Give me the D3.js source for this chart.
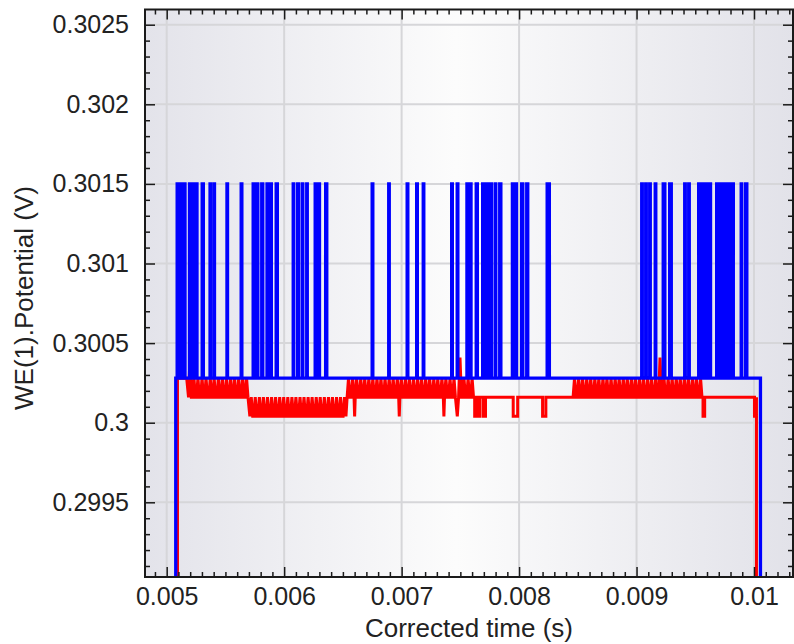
<!DOCTYPE html>
<html><head><meta charset="utf-8">
<script src="https://cdn.jsdelivr.net/npm/d3@7"></script>
<style>html,body{margin:0;padding:0;background:#fff;} svg{display:block;}</style>
</head><body><svg id="chart" width="794" height="644"></svg>
<script>
// ---------------- data ----------------
const xTickValues = [0.005, 0.006, 0.007, 0.008, 0.009, 0.01];
const xTickLabels = ["0.005", "0.006", "0.007", "0.008", "0.009", "0.01"];
const yTickValues = [0.2995, 0.3, 0.3005, 0.301, 0.3015, 0.302, 0.3025];
const yTickLabels = ["0.2995", "0.3", "0.3005", "0.301", "0.3015", "0.302", "0.3025"];
const xTitle = "Corrected time (s)";
const yTitle = "WE(1).Potential (V)";

const belowAxis = 0.2988;          // trace value off the bottom of the plot
// blue trace
const blueBase = 0.30028, blueTop = 0.3015;
const blueStart = 0.005077, blueEnd = 0.010055;
const blueSpikeStart = [0.005089,0.005120,0.005151,0.005194,0.005224,0.005254,0.005302,0.005369,0.005402,0.005513,0.005634,0.005736,0.005770,0.005809,0.005854,0.005885,0.005932,0.006077,0.006115,0.006153,0.006192,0.006264,0.006296,0.006353,0.006749,0.006890,0.007047,0.007128,0.007184,0.007426,0.007473,0.007556,0.007586,0.007635,0.007690,0.007724,0.007758,0.007796,0.007835,0.007943,0.007973,0.008022,0.008065,0.008239,0.009044,0.009078,0.009112,0.009159,0.009227,0.009282,0.009410,0.009444,0.009529,0.009563,0.009595,0.009625,0.009682,0.009716,0.009750,0.009784,0.009818,0.009891,0.009929];
const blueSpikeEnd   = [0.005095,0.005124,0.005156,0.005199,0.005228,0.005258,0.005312,0.005373,0.005407,0.005518,0.005640,0.005742,0.005776,0.005818,0.005858,0.005891,0.005942,0.006082,0.006121,0.006159,0.006197,0.006270,0.006301,0.006363,0.006755,0.006895,0.007053,0.007134,0.007189,0.007432,0.007479,0.007561,0.007591,0.007645,0.007696,0.007730,0.007764,0.007802,0.007845,0.007948,0.007978,0.008032,0.008074,0.008258,0.009049,0.009083,0.009117,0.009164,0.009241,0.009296,0.009415,0.009449,0.009535,0.009569,0.009600,0.009630,0.009688,0.009722,0.009756,0.009790,0.009824,0.009896,0.009939];

// red trace (quantised levels)
const redL0 = 0.30004, redL1 = 0.30016, redL2 = 0.30028, redL3 = 0.30041;
const redStart = 0.005092, redBandAStart = 0.005170, redEnd = 0.010021;
const redSampleStep = 0.000012;
const redBandA = [0.005198,0.005232,0.005266,0.005301,0.005335,0.005371,0.005404,0.005440,0.005474,0.005509,0.005544,0.005578,0.005613,0.005647,0.005680];
const redBandB = [0.005720,0.005754,0.005789,0.005823,0.005858,0.005893,0.005927,0.005962,0.005996,0.006031,0.006066,0.006100,0.006135,0.006169,0.006204,0.006238,0.006273,0.006307,0.006342,0.006377,0.006411,0.006446,0.006480,0.006514];
const redBandC = [0.006548,0.006583,0.006617,0.006652,0.006686,0.006721,0.006755,0.006790,0.006824,0.006859,0.006894,0.006928,0.006963,0.006997,0.007032,0.007066,0.007101,0.007136,0.007170,0.007205,0.007239,0.007274,0.007308,0.007343,0.007377,0.007412,0.007446,0.007497,0.007531,0.007566,0.007600];
const redBandD = [0.008472,0.008507,0.008541,0.008576,0.008610,0.008645,0.008679,0.008714,0.008748,0.008783,0.008818,0.008852,0.008887,0.008921,0.008956,0.008990,0.009025,0.009059,0.009094,0.009128,0.009163,0.009200,0.009234,0.009269,0.009303,0.009338,0.009372,0.009407,0.009441,0.009476,0.009510,0.009545];
const redSpikeTimes = [0.005198, 0.007497, 0.009200];
const redBandDipTimes = [0.006600, 0.006980, 0.007360, 0.007474];
const redDipStart = [0.007622,0.007652,0.007697,0.007950,0.008200,0.009566,0.010004];
const redDipEnd   = [0.007640,0.007668,0.007714,0.007988,0.008228,0.009580,0.010021];

// ---------------- chart ----------------
const FONT = "'Liberation Sans', Arial, sans-serif";
const m = {left: 145, top: 9.5, right: 793, bottom: 577};
const x = d3.scaleLinear().domain([0.0048153, 0.010332]).range([m.left, m.right]);
const y = d3.scaleLinear().domain([0.2990308, 0.3025955]).range([m.bottom, m.top]);

const svg = d3.select("#chart");
const defs = svg.append("defs");
const grad = defs.append("linearGradient").attr("id", "bg").attr("x1", "0").attr("x2", "1").attr("y1", "0").attr("y2", "0");
grad.append("stop").attr("offset", "0%").attr("stop-color", "#e3e3ea");
grad.append("stop").attr("offset", "48%").attr("stop-color", "#fcfcfc");
grad.append("stop").attr("offset", "100%").attr("stop-color", "#e2e2e9");
defs.append("clipPath").attr("id", "clip").append("rect")
  .attr("x", m.left).attr("y", m.top).attr("width", m.right - m.left).attr("height", m.bottom - m.top);

svg.append("rect").attr("x", m.left).attr("y", m.top).attr("width", m.right - m.left)
  .attr("height", m.bottom - m.top).attr("fill", "url(#bg)");

// grid
const grid = svg.append("g").attr("stroke", "#d6d6d9").attr("stroke-width", 2);
grid.selectAll(".gx").data(xTickValues).join("line")
  .attr("x1", d => x(d)).attr("x2", d => x(d)).attr("y1", m.top).attr("y2", m.bottom);
grid.selectAll(".gy").data(yTickValues).join("line")
  .attr("y1", d => y(d)).attr("y2", d => y(d)).attr("x1", m.left).attr("x2", m.right);

// build red points
const redPts = [[redStart, belowAxis], [redStart, redL2], [redBandAStart, redL2]];
function addBand(peaks, low, high) {
  peaks.forEach(p => {
    const top = redSpikeTimes.includes(p) ? redL3 : high;
    redPts.push([p - redSampleStep, low], [p, top], [p + redSampleStep, low]);
  });
}
addBand(redBandA, redL1, redL2);
addBand(redBandB, redL0, redL1);
addBand(redBandC, redL1, redL2);
addBand(redBandD, redL1, redL2);
redBandDipTimes.forEach(t => redPts.push([t, redL0]));
redDipStart.forEach((s, i) => {
  redPts.push([s, redL1], [s, redL0], [redDipEnd[i], redL0], [redDipEnd[i], redL1]);
});
redPts.push([redEnd, belowAxis]);
const redSorted = redPts.map((p, i) => [p[0], p[1], i]).sort((a, b) => a[0] - b[0] || a[2] - b[2]);

// build blue points
const bluePts = [[blueStart, belowAxis], [blueStart, blueBase]];
blueSpikeStart.forEach((s, i) => {
  const e = blueSpikeEnd[i];
  bluePts.push([s, blueBase], [s, blueTop], [e, blueTop], [e, blueBase]);
});
bluePts.push([blueEnd, blueBase], [blueEnd, belowAxis]);

const line = d3.line().x(d => x(d[0])).y(d => y(d[1]));
const plot = svg.append("g").attr("clip-path", "url(#clip)");
plot.append("path").attr("d", line(redSorted)).attr("fill", "none")
  .attr("stroke", "#ff0000").attr("stroke-width", 3).attr("stroke-linejoin", "miter").attr("stroke-miterlimit", 2);
plot.append("path").attr("d", line(bluePts)).attr("fill", "none")
  .attr("stroke", "#0000ff").attr("stroke-width", 3.3);

// axes
const xMinor = d3.range(49, 104).map(k => k / 10000).filter(v => !xTickValues.some(t => Math.abs(t - v) < 1e-9));
const yMinor = d3.range(2991, 3026).map(k => k / 10000).filter(v => !yTickValues.some(t => Math.abs(t - v) < 1e-9));

function styleAxis(g) {
  g.select(".domain").remove();
  g.selectAll(".tick line").attr("stroke", "#1a1a1a").attr("stroke-width", 1.5);
  g.selectAll("text").attr("font-family", FONT).attr("font-size", 25).attr("fill", "#222");
}
svg.append("g").attr("transform", `translate(0,${m.bottom})`)
  .call(d3.axisBottom(x).tickValues(xTickValues).tickFormat((d, i) => xTickLabels[i]).tickSize(-10).tickPadding(10)).call(styleAxis);
svg.append("g").attr("transform", `translate(0,${m.bottom})`)
  .call(d3.axisBottom(x).tickValues(xMinor).tickFormat("").tickSize(-5)).call(styleAxis);
svg.append("g").attr("transform", `translate(0,${m.top})`)
  .call(d3.axisTop(x).tickValues(xTickValues).tickFormat("").tickSize(-10)).call(styleAxis);
svg.append("g").attr("transform", `translate(0,${m.top})`)
  .call(d3.axisTop(x).tickValues(xMinor).tickFormat("").tickSize(-5)).call(styleAxis);
svg.append("g").attr("transform", `translate(${m.left},0)`)
  .call(d3.axisLeft(y).tickValues(yTickValues).tickFormat((d, i) => yTickLabels[i]).tickSize(-10).tickPadding(16)).call(styleAxis);
svg.append("g").attr("transform", `translate(${m.left},0)`)
  .call(d3.axisLeft(y).tickValues(yMinor).tickFormat("").tickSize(-5)).call(styleAxis);
svg.append("g").attr("transform", `translate(${m.right},0)`)
  .call(d3.axisRight(y).tickValues(yTickValues).tickFormat("").tickSize(-10)).call(styleAxis);
svg.append("g").attr("transform", `translate(${m.right},0)`)
  .call(d3.axisRight(y).tickValues(yMinor).tickFormat("").tickSize(-5)).call(styleAxis);

svg.append("rect").attr("x", m.left).attr("y", m.top).attr("width", m.right - m.left)
  .attr("height", m.bottom - m.top).attr("fill", "none").attr("stroke", "#1a1a1a").attr("stroke-width", 2);

// titles
svg.append("text").attr("x", (m.left + m.right) / 2).attr("y", 637).attr("text-anchor", "middle")
  .attr("font-family", FONT).attr("font-size", 26).attr("fill", "#222").text(xTitle);
svg.append("text").attr("transform", "translate(33,298) rotate(-90)").attr("text-anchor", "middle")
  .attr("font-family", FONT).attr("font-size", 26).attr("fill", "#222").text(yTitle);
</script>
</body></html>
